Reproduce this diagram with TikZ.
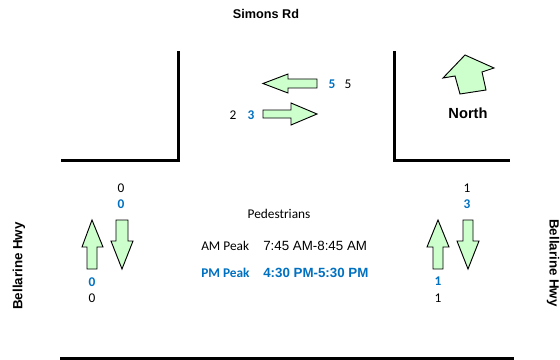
\documentclass[tikz,border=0pt]{standalone}
\usepackage{fontspec}
\setmainfont{Carlito}
\newfontfamily\arial{Liberation Sans}
\definecolor{peakblue}{HTML}{0070C0}
\definecolor{flowgreen}{HTML}{CCFFCC}
\begin{document}
\begin{tikzpicture}[x=0.75pt,y=-0.75pt,
  road/.style={line width=2.25pt,line join=miter,line cap=rect},
  flowarrow/.style={draw=black,fill=flowgreen,line width=0.7pt,line join=miter},
  count/.style={font=\fontsize{10}{12}\selectfont,inner sep=0pt},
  pmcount/.style={count,font=\fontsize{10}{12}\selectfont\bfseries,text=peakblue},
  roadname/.style={font=\arial\fontsize{10}{12}\selectfont\bfseries,inner sep=0pt},
  plain/.style={font=\fontsize{10}{12}\selectfont,inner sep=0pt},
  times/.style={font=\arial\fontsize{10}{12}\selectfont,inner sep=0pt}]
\useasboundingbox (0,0) rectangle (560,360);

% kerb lines
\draw[road] (62,160) -- (178,160) -- (178,53);
\draw[road] (394,53) -- (394,160) -- (508,160);
\draw[road] (61,358) -- (512,358);

% road names
\node[roadname,font=\arial\fontsize{9.5}{12}\selectfont\bfseries] (simons) at (266,14) {Simons Rd};
\node[roadname,rotate=90] (bellW) at (19,266) {Bellarine Hwy};
\node[roadname,rotate=-90] (bellE) at (553,263) {Bellarine Hwy};

% north indicator
\draw[flowarrow] (465,55) -- (494,68) -- (482,72) -- (486,90) -- (460,94) -- (455,76) -- (443,78) -- cycle;
\node[roadname,font=\arial\fontsize{11}{13}\selectfont\bfseries] (north) at (468,113) {North};

% Simons Rd movements
\draw[flowarrow] (263,83.5) -- (288,74) -- (288,79) -- (317,79) -- (317,88) -- (288,88) -- (288,93) -- cycle;
\draw[flowarrow] (317,114) -- (291,103) -- (291,110) -- (263,110) -- (263,118) -- (291,118) -- (291,125) -- cycle;
\node[pmcount] (wbPM) at (332,84) {5};
\node[count] (wbAM) at (348,84) {5};
\node[count] (ebAM) at (233,115) {2};
\node[pmcount] (ebPM) at (251,115) {3};

% west Bellarine Hwy movements
\draw[flowarrow] (92,220) -- (103,247) -- (97,247) -- (97,269) -- (87,269) -- (87,247) -- (82,247) -- cycle;
\draw[flowarrow] (122,269) -- (133,241) -- (128,241) -- (128,220) -- (116,220) -- (116,241) -- (111,241) -- cycle;
\node[count] (wsAM) at (121,188) {0};
\node[pmcount] (wsPM) at (121,204) {0};
\node[pmcount] (wnPM) at (92,282) {0};
\node[count] (wnAM) at (92,298) {0};

% east Bellarine Hwy movements
\draw[flowarrow] (438,220) -- (449,247) -- (443,247) -- (443,269) -- (433,269) -- (433,247) -- (427,247) -- cycle;
\draw[flowarrow] (468,269) -- (479,241) -- (473,241) -- (473,220) -- (463,220) -- (463,241) -- (457,241) -- cycle;
\node[count] (esAM) at (467,188) {1};
\node[pmcount] (esPM) at (467,204) {3};
\node[pmcount] (enPM) at (438,281) {1};
\node[count] (enAM) at (438,298) {1};

% legend
\node[plain] (ped) at (279,214) {Pedestrians};
\node[plain,anchor=west] (amlbl) at (201,246) {AM Peak};
\node[times,anchor=west] (amtime) at (263,246) {7:45 AM-8:45 AM};
\node[plain,anchor=west,font=\fontsize{10}{12}\selectfont\bfseries,text=peakblue] (pmlbl) at (201,273) {PM Peak};
\node[times,anchor=west,font=\arial\fontsize{10}{12}\selectfont\bfseries,text=peakblue] (pmtime) at (263,273) {4:30 PM-5:30 PM};
\end{tikzpicture}
\end{document}
